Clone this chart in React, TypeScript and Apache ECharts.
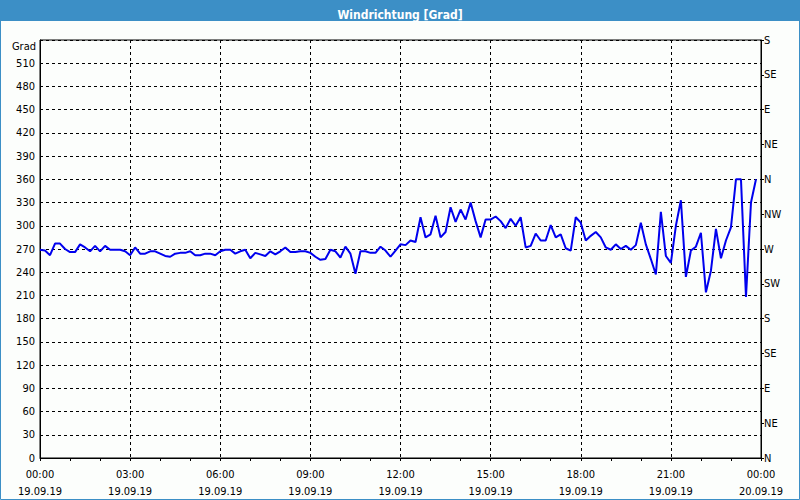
import React, { useEffect, useRef } from "react";
import * as echarts from "echarts";

const chartTitle = "Windrichtung [Grad]";
const yAxisName = "Grad";
const startDate = "19.09.19";
const endDate = "20.09.19";
const sampleMinutes = 10;
const directionLabels = ["N", "NE", "E", "SE", "S", "SW", "W", "NW", "N", "NE", "E", "SE", "S"];

// wind direction in degrees, one value every 10 minutes from 19.09.19 00:00
const windDirection = [
  269, 268, 262, 277, 277, 270, 266, 266, 276, 272, 267, 274, 267, 274, 269, 269, 269, 267, 262, 272,
  264, 264, 267, 267, 264, 261, 260, 264, 265, 265, 267, 262, 262, 264, 264, 262, 267, 269, 269, 264,
  267, 269, 258, 265, 263, 261, 267, 263, 267, 272, 266, 266, 267, 267, 265, 260, 256, 257, 269, 267,
  259, 273, 264, 238, 267, 267, 265, 265, 273, 268, 260, 268, 276, 275, 281, 279, 311, 285, 289, 313,
  285, 292, 324, 305, 321, 308, 330, 306, 285, 308, 308, 312, 306, 297, 309, 300, 311, 272, 274, 290,
  281, 281, 301, 285, 289, 271, 268, 311, 304, 281, 287, 292, 285, 272, 269, 276, 270, 274, 269, 275,
  304, 276, 257, 237, 318, 261, 252, 300, 333, 234, 268, 273, 291, 214, 242, 296, 258, 281, 298, 360,
  360, 208, 330, 360,
];

const FONT = '"DejaVu Sans Condensed", "Liberation Sans", Arial, sans-serif';

export default function App() {
  const ref = useRef<HTMLDivElement>(null);

  useEffect(() => {
    if (!ref.current) return;
    const chart = echarts.init(ref.current, undefined, { renderer: "svg" });
    const pad = (n: number) => (n < 10 ? "0" + n : "" + n);
    const data = windDirection.map((v, i) => [(i * sampleMinutes) / 60, v]);

    chart.setOption({
      animation: false,
      backgroundColor: "#fcfefc",
      textStyle: { fontFamily: FONT },
      title: {
        text: chartTitle,
        left: "center",
        top: 4,
        textStyle: { color: "#ffffff", fontWeight: "bold", fontSize: 12, fontFamily: FONT },
      },
      graphic: [
        {
          type: "rect",
          z: -1,
          silent: true,
          shape: { x: 0, y: 0, width: 800, height: 21 },
          style: { fill: "#3c8fc6" },
        },
        {
          type: "rect",
          z: 100,
          silent: true,
          shape: { x: 0.5, y: 0.5, width: 799, height: 499 },
          style: { fill: "none", stroke: "#3c8fc6", lineWidth: 1 },
        },
        {
          type: "text",
          x: 36,
          y: 46,
          style: {
            text: yAxisName,
            fill: "#000",
            fontSize: 11,
            fontFamily: FONT,
            align: "right",
            verticalAlign: "middle",
          },
        },
      ],
      grid: {
        left: 40,
        right: 39,
        top: 40,
        bottom: 39,
        show: true,
        borderColor: "#000",
        borderWidth: 1,
        backgroundColor: "transparent",
      },
      xAxis: {
        type: "value",
        min: 0,
        max: 24,
        interval: 3,
        axisLine: { show: true, onZero: false, lineStyle: { color: "#000", width: 1 } },
        axisTick: { show: true, length: 3, lineStyle: { color: "#000" } },
        minorTick: { show: true, splitNumber: 3, length: 3, lineStyle: { color: "#000" } },
        splitLine: { show: true, lineStyle: { color: "#000", type: [3, 3], width: 1 } },
        axisLabel: {
          color: "#000",
          fontSize: 11,
          fontFamily: FONT,
          margin: 8,
          lineHeight: 17,
          formatter: (v: number) => `${pad(v % 24)}:00\n${v < 24 ? startDate : endDate}`,
        },
      },
      yAxis: [
        {
          type: "value",
          min: 0,
          max: 540,
          interval: 30,
          axisLine: { show: true, lineStyle: { color: "#000", width: 1 } },
          axisTick: { show: false },
          splitLine: { show: true, lineStyle: { color: "#000", type: [3, 3], width: 1 } },
          axisLabel: {
            color: "#000",
            fontSize: 11,
            fontFamily: FONT,
            margin: 5,
            formatter: (v: number) => (v === 540 ? "" : String(v)),
          },
        },
        {
          type: "value",
          position: "right",
          min: 0,
          max: 540,
          interval: 45,
          axisLine: { show: true, lineStyle: { color: "#000", width: 1 } },
          axisTick: { show: true, length: 3, lineStyle: { color: "#000" } },
          splitLine: { show: false },
          axisLabel: {
            color: "#000",
            fontSize: 11,
            fontFamily: FONT,
            margin: 3,
            formatter: (v: number) => directionLabels[Math.round(v / 45)] ?? "",
          },
        },
      ],
      series: [
        {
          type: "line",
          yAxisIndex: 0,
          data,
          showSymbol: false,
          symbol: "none",
          lineStyle: { color: "#0000ee", width: 2 },
          z: 5,
        },
      ],
    });

    return () => chart.dispose();
  }, []);

  return (
    <div
      ref={ref}
      style={{ position: "fixed", left: 0, top: 0, width: 800, height: 500 }}
    />
  );
}
